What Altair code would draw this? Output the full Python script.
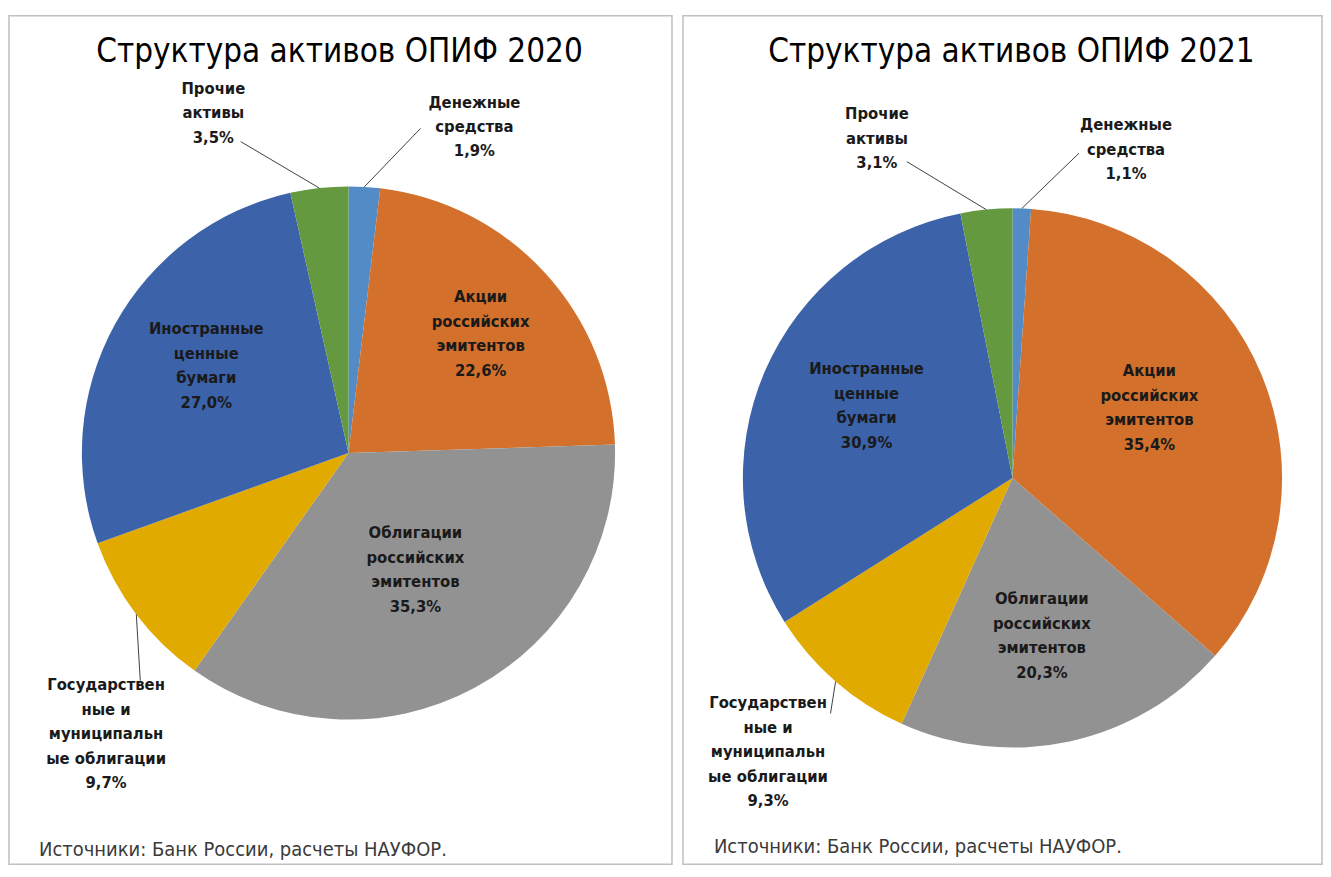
import altair as alt
import pandas as pd

CATEGORIES = [
    "Денежные средства",
    "Акции российских эмитентов",
    "Облигации российских эмитентов",
    "Государственные и муниципальные облигации",
    "Иностранные ценные бумаги",
    "Прочие активы",
]
LABEL_LINES = [
    ["Денежные", "средства"],
    ["Акции", "российских", "эмитентов"],
    ["Облигации", "российских", "эмитентов"],
    ["Государствен", "ные и", "муниципальн", "ые облигации"],
    ["Иностранные", "ценные", "бумаги"],
    ["Прочие", "активы"],
]
VALUES_2020 = [1.9, 22.6, 35.3, 9.7, 27.0, 3.5]
VALUES_2021 = [1.1, 35.4, 20.3, 9.3, 30.9, 3.1]
TITLES = ["Структура активов ОПИФ 2020", "Структура активов ОПИФ 2021"]
SOURCE = "Источники: Банк России, расчеты НАУФОР."
COLORS = ["#528BC5", "#D2702C", "#929292", "#E0AA00", "#3C62A9", "#64993F"]

# label layout: (radius px, angle offset deg) from slice mid-angle
LABEL_POS = [
    [(350, 17.7), (178, 0.5), (135, -1.5), (372, -12.0), (167, 2.7), (366, -15.4)],
    [(348, 17.1), (154, -4.7), (161, 1.7), (368, 0.7), (163, 3.0), (366, -16.2)],
]
LEADER_END = [
    [(333, 9.1), None, None, (309, -10.3), None, (330, -12.8)],
    [(332, 9.6), None, None, (298, -3.3), None, (334, -12.9)],
]
PANEL_W = [664, 640]
PANEL_H = 850
CENTERS = [(340, 438), (330, 463)]
RADII = [267, 270]
TITLE_X = [331, 329]
SOURCE_POS = [(30, 842), (31, 839)]
LINE_H = 24.5

FONT = "Liberation Sans Narrow, DejaVu Sans Condensed, sans-serif"


def fmt(v):
    return f"{v:.1f}%".replace(".", ",")


def panel(i, values):
    cx, cy = CENTERS[i]
    R = RADII[i]
    rows = []
    for k, (cat, v) in enumerate(zip(CATEGORIES, values)):
        lr, ld = LABEL_POS[i][k]
        le = LEADER_END[i][k]
        rows.append({
            "cat": cat,
            "value": v,
            "order": k,
            "label": "\n".join(LABEL_LINES[k] + [fmt(v)]),
            "lr": lr,
            "ld": ld,
            "er": le[0] if le else None,
            "ed": le[1] if le else None,
        })
    df = pd.DataFrame(rows)
    base = alt.Chart(df).transform_joinaggregate(
        total="sum(value)"
    ).transform_window(
        cum="sum(value)", sort=[alt.SortField("order")]
    ).transform_calculate(
        mid="2*PI*(datum.cum - datum.value/2)/datum.total",
        nl="length(split(datum.label, '\\n'))",
    ).transform_calculate(
        lx=f"{cx} + datum.lr*sin(datum.mid + datum.ld*PI/180)",
        ly=f"{cy} - datum.lr*cos(datum.mid + datum.ld*PI/180) - (datum.nl - 1)*{LINE_H}/2",
        ex=f"{cx} + {R}*sin(datum.mid)",
        ey=f"{cy} - {R}*cos(datum.mid)",
        tx=f"{cx} + datum.er*sin(datum.mid + datum.ed*PI/180)",
        ty=f"{cy} - datum.er*cos(datum.mid + datum.ed*PI/180)",
    )

    arcs = alt.Chart(df).mark_arc(radius=R).encode(
        theta=alt.Theta("value:Q", stack=True),
        order=alt.Order("order:Q"),
        color=alt.Color("cat:N", scale=alt.Scale(domain=CATEGORIES, range=COLORS), legend=None),
        x=alt.value(cx),
        y=alt.value(cy),
    )
    leaders = base.transform_filter("isValid(datum.er)").mark_rule(
        color="#404040", strokeWidth=1
    ).encode(
        x=alt.X("ex:Q", scale=None, axis=None),
        y=alt.Y("ey:Q", scale=None, axis=None),
        x2="tx:Q",
        y2="ty:Q",
    )
    labels = base.mark_text(
        font=FONT, fontSize=16.5, fontWeight="bold", color="#1a1a1a",
        lineBreak="\n", lineHeight=LINE_H, align="center", baseline="middle",
    ).encode(
        x=alt.X("lx:Q", scale=None, axis=None),
        y=alt.Y("ly:Q", scale=None, axis=None),
        text="label:N",
    )
    title = alt.Chart(pd.DataFrame({"t": [TITLES[i]]})).mark_text(
        font=FONT, fontSize=33, color="#000000", align="center", baseline="alphabetic",
    ).encode(x=alt.value(TITLE_X[i]), y=alt.value(46), text="t:N")
    source = alt.Chart(pd.DataFrame({"t": [SOURCE]})).mark_text(
        font=FONT, fontSize=20, color="#3a3a3a", align="left", baseline="alphabetic",
    ).encode(x=alt.value(SOURCE_POS[i][0]), y=alt.value(SOURCE_POS[i][1]), text="t:N")

    return alt.layer(arcs, leaders, labels, title, source).properties(
        width=PANEL_W[i], height=PANEL_H
    )


chart = alt.hconcat(
    panel(0, VALUES_2020), panel(1, VALUES_2021), spacing=9
).properties(
    padding={"left": 0, "top": 6, "right": 0, "bottom": 0},
    background="white",
).configure_view(stroke="#BFBFBF", strokeWidth=1.5)

chart.save("out.html", embed_options={"renderer": "svg", "actions": False})
